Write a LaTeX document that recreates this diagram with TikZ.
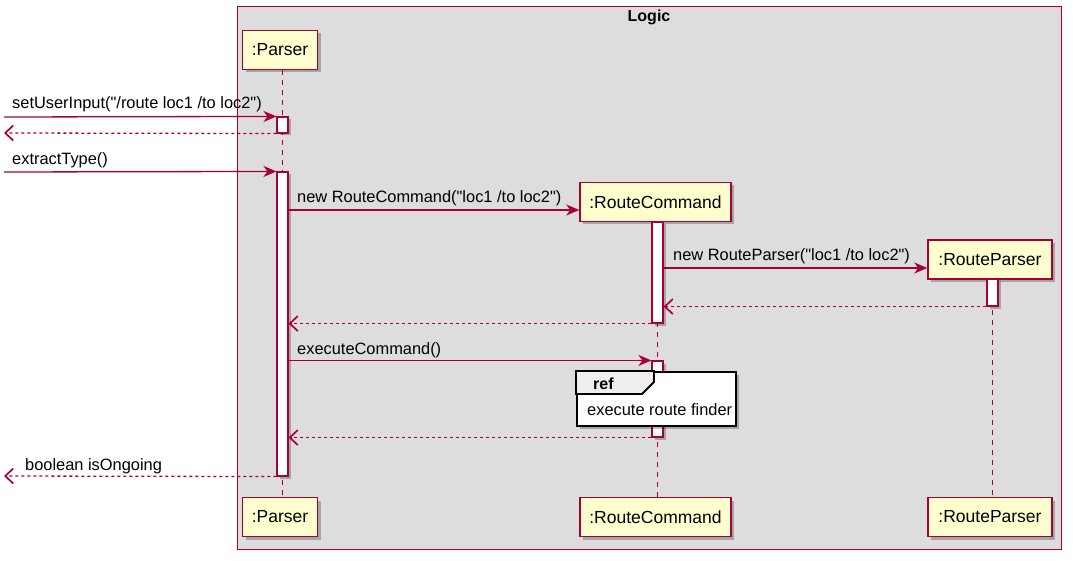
\documentclass[tikz,border=0pt]{standalone}
\usepackage{fontspec}
\setmainfont{Liberation Sans}[Ligatures=TeXOff]
\usetikzlibrary{arrows.meta,shadows}
\definecolor{pline}{HTML}{A80036}
\definecolor{pfill}{HTML}{FEFECE}
\definecolor{grp}{HTML}{DDDDDD}
\definecolor{reftab}{HTML}{EEEEEE}
\tikzset{
  part/.style={draw=pline, fill=pfill, line width=1.5pt, minimum width=#1, minimum height=39pt,
    inner sep=0pt, font=\fontsize{17.5}{20}\selectfont,
    drop shadow={shadow xshift=3pt, shadow yshift=-3pt, fill=black, opacity=0.25}},
  act/.style={draw=pline, fill=white, line width=1.1pt, minimum width=11pt, minimum height=#1, inner sep=0pt,
    drop shadow={shadow xshift=2.5pt, shadow yshift=-2.5pt, fill=black, opacity=0.25}},
  life/.style={draw=pline, line width=1.2pt, dash pattern=on 5pt off 5pt},
  msg/.style={draw=pline, line width=1.3pt, -{Stealth[length=13pt, width=11pt, inset=4pt]}},
  ret/.style={draw=pline, line width=1.3pt, dash pattern=on 3pt off 3pt, -{Straight Barb[length=8pt, width=15pt, line width=1.7pt]}},
  lbl/.style={font=\fontsize{16.4}{19}\selectfont, inner sep=0pt, anchor=base west},
}
\begin{document}
\begin{tikzpicture}[x=1pt, y=-1pt]
\useasboundingbox (0,0) rectangle (1073,561);
% group frame
\node[draw=pline, fill=grp, line width=1.2pt, minimum width=824pt, minimum height=543pt, inner sep=0pt, anchor=north west] (logic) at (237,6) {};
\node[font=\bfseries\fontsize{16}{19}\selectfont, inner sep=0pt, anchor=base] (logict) at (649,22) {Logic};
% participants
\node[part=75pt] (p) at (280,50) {:Parser};
\node[part=75pt] (pb) at (280,517) {:Parser};
\node[part=151pt] (rc) at (655.5,202) {:RouteCommand};
\node[part=151pt] (rcb) at (655.5,517) {:RouteCommand};
\node[part=124pt] (rp) at (990,259.5) {:RouteParser};
\node[part=124pt] (rpb) at (990,517) {:RouteParser};
% lifelines
\draw[life] (p.south -| 282.5,0) -- (pb.north -| 282.5,0);
\draw[life] (rc.south -| 657.5,0) -- (rcb.north -| 657.5,0);
\draw[life] (rp.south -| 992.5,0) -- (rpb.north -| 992.5,0);
% activations
\node[act=16pt] (a1) at (282.5,125) {};
\node[act=304pt] (a2) at (282.5,324) {};
\node[act=101pt] (c1) at (657.5,272.5) {};
\node[act=27pt] (r1) at (992.5,292.5) {};
\node[act=76pt] (c2) at (657.5,399) {};
% free ends
\coordinate (in1) at (4,117);
\coordinate (out1) at (4,133);
\coordinate (in2) at (4,172);
\coordinate (out2) at (4,476);
% messages
\draw[msg] (in1) -- (a1.north west);
\node[lbl] (l1) at (12,109) {setUserInput("/route loc1 /to loc2")};
\draw[ret] (a1.south west) -- (out1);
\draw[msg] (in2) -- (a2.north west);
\node[lbl] (l2) at (12,165) {extractType()};
\draw[msg] (a2.east |- 0,210) -- (rc.west |- 0,210);
\node[lbl] (l3) at (297,203) {new RouteCommand("loc1 /to loc2")};
\draw[msg] (c1.east |- 0,268) -- (rp.west |- 0,268);
\node[lbl] (l4) at (673,261) {new RouteParser("loc1 /to loc2")};
\draw[ret] (r1.south west) -- (c1.east |- r1.south);
\draw[ret] (c1.south west) -- (a2.east |- c1.south);
\draw[msg] (a2.east |- c2.north) -- (c2.north west);
\node[lbl] (l5) at (297,354) {executeCommand()};
\draw[ret] (c2.south west) -- (a2.east |- c2.south);
\draw[ret] (a2.south west) -- (out2);
\node[lbl] (l6) at (25,470) {boolean isOngoing};
% ref frame
\node[draw=black, fill=white, line width=1.8pt, minimum width=159pt, minimum height=54pt, inner sep=0pt, anchor=north west,
  drop shadow={shadow xshift=3pt, shadow yshift=-3pt, fill=black, opacity=0.25}] (ref) at (576,371) {};
\draw[black, line width=1.8pt, fill=reftab] (ref.north west) -- (654,371) -- (654,382) -- (642,394) -- (576,394) -- cycle;
\node[font=\bfseries\fontsize{16}{19}\selectfont, inner sep=0pt, anchor=base west] (reft) at (593,389) {ref};
\node[lbl] (refx) at (587,415) {execute route finder};
\end{tikzpicture}
\end{document}
